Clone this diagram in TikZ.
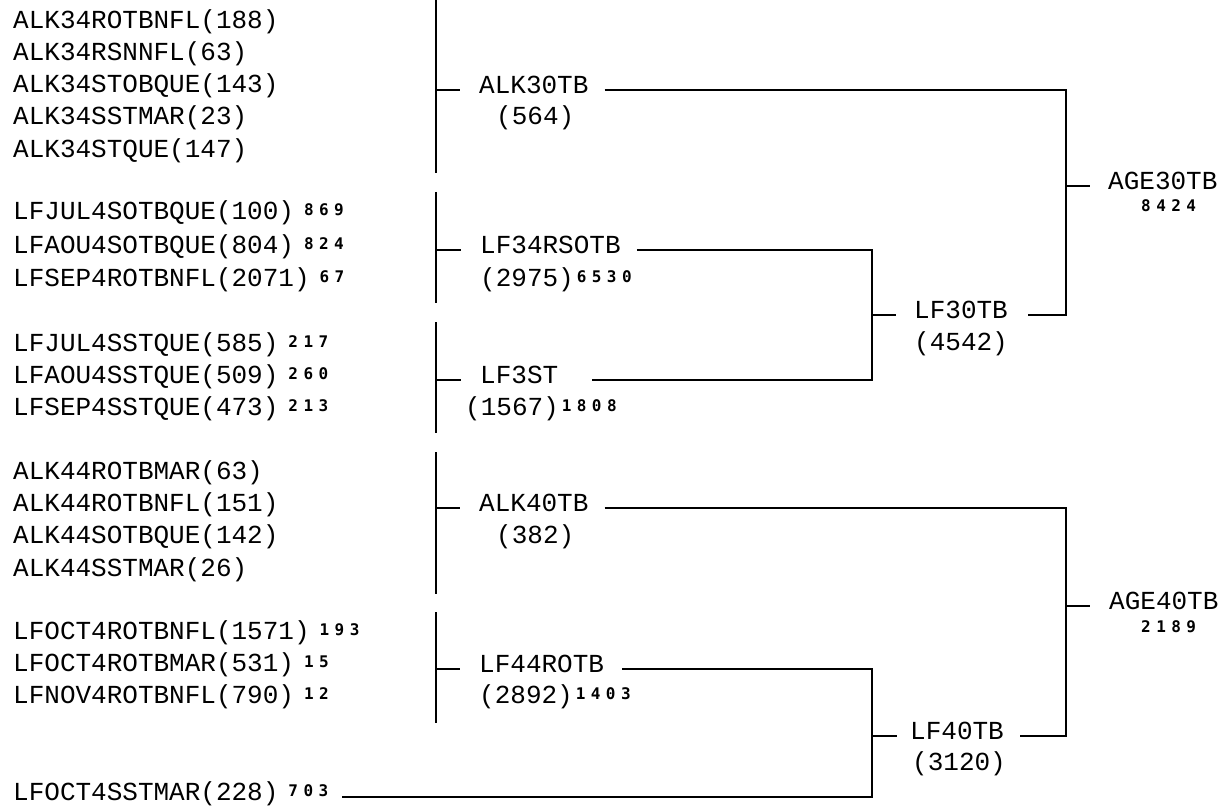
\documentclass[tikz,border=0pt]{standalone}
\usepackage{fontspec}
\setmainfont{Liberation Mono}
\newfontfamily\supfont{DejaVu Sans Mono}[LetterSpace=34]
\usetikzlibrary{positioning}
% cifras pequeñas junto a los nombres
\newcommand{\rk}[2][10pt]{\hspace{#1}\raisebox{4pt}{\supfont\bfseries\fontsize{16}{16}\selectfont #2}}

\begin{document}
\begin{tikzpicture}[x=1pt, y=-1pt]
  \tikzset{
    leaf_node/.style={anchor=base west, inner sep=0pt, text height=15pt, text depth=8pt, font=\fontsize{26}{30}\selectfont},
    group_node/.style={anchor=base west, inner sep=0pt, text height=15pt, text depth=8pt, font=\fontsize{26}{30}\selectfont},
    count_node/.style={anchor=base west, inner sep=0pt, font=\fontsize{26}{30}\selectfont},
    total_node/.style={anchor=base west, inner sep=0pt, font=\supfont\bfseries\fontsize{16}{16}\selectfont},
    tree_line/.style={line width=2pt}
  }
  \useasboundingbox (0,0) rectangle (1228,810);

  % Hojas (columna izquierda)
  \node[leaf_node] (l1) at (13,29) {ALK34ROTBNFL(188)};
  \node[leaf_node] (l2) at (13,61) {ALK34RSNNFL(63)};
  \node[leaf_node] (l3) at (13,93) {ALK34STOBQUE(143)};
  \node[leaf_node] (l4) at (13,125) {ALK34SSTMAR(23)};
  \node[leaf_node] (l5) at (13,158) {ALK34STQUE(147)};

  \node[leaf_node] (l6) at (13,220) {LFJUL4SOTBQUE(100)\rk{869}};
  \node[leaf_node] (l7) at (13,254) {LFAOU4SOTBQUE(804)\rk{824}};
  \node[leaf_node] (l8) at (13,286) {LFSEP4ROTBNFL(2071)\rk{67}};

  \node[leaf_node] (l9) at (13,351) {LFJUL4SSTQUE(585)\rk{217}};
  \node[leaf_node] (l10) at (13,383) {LFAOU4SSTQUE(509)\rk{260}};
  \node[leaf_node] (l11) at (13,415) {LFSEP4SSTQUE(473)\rk{213}};

  \node[leaf_node] (l12) at (13,479) {ALK44ROTBMAR(63)};
  \node[leaf_node] (l13) at (13,511) {ALK44ROTBNFL(151)};
  \node[leaf_node] (l14) at (13,543) {ALK44SOTBQUE(142)};
  \node[leaf_node] (l15) at (13,576) {ALK44SSTMAR(26)};

  \node[leaf_node] (l16) at (13,639) {LFOCT4ROTBNFL(1571)\rk{193}};
  \node[leaf_node] (l17) at (13,671) {LFOCT4ROTBMAR(531)\rk{15}};
  \node[leaf_node] (l18) at (13,703) {LFNOV4ROTBNFL(790)\rk{12}};

  \node[leaf_node] (l19) at (13,800) {LFOCT4SSTMAR(228)\rk{703}};

  % Grupos del primer nivel
  \node[group_node] (alk30) at (479,94) {ALK30TB};
  \node[count_node] (n_alk30) at (496,125) {(564)};
  \node[group_node] (lf34) at (480,254) {LF34RSOTB};
  \node[count_node] (n_lf34) at (480,286) {(2975)\rk[3pt]{6530}};
  \node[group_node] (lf3st) at (480,383) {LF3ST};
  \node[count_node] (n_lf3st) at (465,415) {(1567)\rk[3pt]{1808}};
  \node[group_node] (alk40) at (479,511) {ALK40TB};
  \node[count_node] (n_alk40) at (496,543) {(382)};
  \node[group_node] (lf44) at (479,672) {LF44ROTB};
  \node[count_node] (n_lf44) at (479,703) {(2892)\rk[3pt]{1403}};

  % Grupos del segundo y tercer nivel
  \node[group_node] (lf30) at (914,318) {LF30TB};
  \node[count_node] (n_lf30) at (914,350) {(4542)};
  \node[group_node] (lf40) at (910,739) {LF40TB};
  \node[count_node] (n_lf40) at (912,770) {(3120)};
  \node[group_node] (age30) at (1108,190) {AGE30TB};
  \node[total_node] (n_age30) at (1141,212) {8424};
  \node[group_node] (age40) at (1109,609) {AGE40TB};
  \node[total_node] (n_age40) at (1141,632) {2189};

  % Barras verticales de las hojas
  \coordinate (b1t) at (436,0);   \coordinate (b1b) at (436,173);
  \coordinate (b2t) at (436,192); \coordinate (b2b) at (436,303);
  \coordinate (b3t) at (436,322); \coordinate (b3b) at (436,433);
  \coordinate (b4t) at (436,452); \coordinate (b4b) at (436,594);
  \coordinate (b5t) at (436,612); \coordinate (b5b) at (436,723);
  \coordinate (k_lf) at (872,0);
  \coordinate (k_age) at (1066,0);

  \draw[tree_line] (b1t) -- (b1b);
  \draw[tree_line] (b2t) -- (b2b);
  \draw[tree_line] (b3t) -- (b3b);
  \draw[tree_line] (b4t) -- (b4b);
  \draw[tree_line] (b5t) -- (b5b);

  % Marcas hacia los grupos
  \draw[tree_line] (b1t |- alk30.west) -- ([xshift=-19pt]alk30.west);
  \draw[tree_line] (b2t |- lf34.west) -- ([xshift=-19pt]lf34.west);
  \draw[tree_line] (b3t |- lf3st.west) -- ([xshift=-19pt]lf3st.west);
  \draw[tree_line] (b4t |- alk40.west) -- ([xshift=-19pt]alk40.west);
  \draw[tree_line] (b5t |- lf44.west) -- ([xshift=-19pt]lf44.west);
  \draw[tree_line] (k_lf |- lf30.west) -- ([xshift=-18pt]lf30.west);
  \draw[tree_line] (k_lf |- lf40.west) -- ([xshift=-13pt]lf40.west);
  \draw[tree_line] (k_age |- age30.west) -- ([xshift=-18pt]age30.west);
  \draw[tree_line] (k_age |- age40.west) -- ([xshift=-19pt]age40.west);

  % Uniones
  \draw[tree_line] ([xshift=16pt]lf34.east) -| (k_lf |- lf3st.east) -- ([xshift=34pt]lf3st.east);
  \draw[tree_line] ([xshift=18pt]lf44.east) -| (k_lf |- l19.east) -- ([xshift=14pt]l19.east);
  \draw[tree_line] ([xshift=16pt]alk30.east) -| (k_age |- lf30.east) -- ([xshift=20pt]lf30.east);
  \draw[tree_line] ([xshift=16pt]alk40.east) -| (k_age |- lf40.east) -- ([xshift=16pt]lf40.east);
\end{tikzpicture}
\end{document}
